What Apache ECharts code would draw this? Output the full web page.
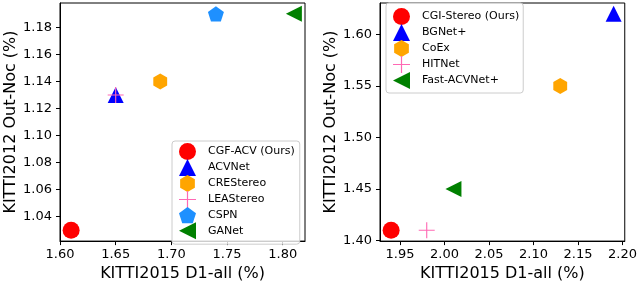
<!DOCTYPE html>
<html>
<head>
<meta charset="utf-8">
<script src="https://cdn.jsdelivr.net/npm/echarts@6/dist/echarts.min.js"></script>
<style>html,body{margin:0;padding:0;background:#fff}#c{width:640px;height:287px}</style>
</head>
<body>
<div id="c"></div>
<script>
// Left panel data
const leftNames = ['CGF-ACV (Ours)', 'ACVNet', 'CREStereo', 'LEAStereo', 'CSPN', 'GANet'];
const leftX = [1.61, 1.65, 1.69, 1.65, 1.74, 1.81];
const leftY = [1.03, 1.13, 1.14, 1.13, 1.19, 1.19];
const leftXTicks = [1.60, 1.65, 1.70, 1.75, 1.80];
const leftYTicks = [1.04, 1.06, 1.08, 1.10, 1.12, 1.14, 1.16, 1.18];

// Right panel data
const rightNames = ['CGI-Stereo (Ours)', 'BGNet+', 'CoEx', 'HITNet', 'Fast-ACVNet+'];
const rightX = [1.94, 2.19, 2.13, 1.98, 2.01];
const rightY = [1.41, 1.62, 1.55, 1.41, 1.45];
const rightXTicks = [1.95, 2.00, 2.05, 2.10, 2.15, 2.20];
const rightYTicks = [1.40, 1.45, 1.50, 1.55, 1.60];

const xTitle = 'KITTI2015 D1-all (%)';
const yTitle = 'KITTI2012 Out-Noc (%)';

const SYM = {
  circle: 'circle',
  triUp: 'triangle',
  hex: 'path://M0,-1 L0.866,-0.5 L0.866,0.5 L0,1 L-0.866,0.5 L-0.866,-0.5 Z',
  plus: 'path://M-0.07,-1 L0.07,-1 L0.07,-0.07 L1,-0.07 L1,0.07 L0.07,0.07 L0.07,1 L-0.07,1 L-0.07,0.07 L-1,0.07 L-1,-0.07 L-0.07,-0.07 Z',
  pent: 'path://M0,-1 L0.951,-0.309 L0.588,0.809 L-0.588,0.809 L-0.951,-0.309 Z',
  triLeft: 'path://M-1,0 L1,-1 L1,1 Z'
};
const leftStyle = [
  ['circle', '#ff0000', 17], ['triUp', '#0000ff', 16], ['hex', '#ffa500', 16],
  ['plus', '#ff69b4', 16], ['pent', '#1e90ff', 16], ['triLeft', '#008000', 16]
];
const rightStyle = [
  ['circle', '#ff0000', 17], ['triUp', '#0000ff', 16], ['hex', '#ffa500', 16],
  ['plus', '#ff69b4', 16], ['triLeft', '#008000', 16]
];

const FONT = 'DejaVu Sans';

function fmt(v) { return v.toFixed(2); }

function axisX(idx, min, max, ticks) {
  return {
    type: 'value', gridIndex: idx, min: min, max: max,
    name: xTitle, nameLocation: 'middle', nameGap: 16,
    nameTextStyle: { fontFamily: FONT, fontSize: 16, color: '#000' },
    axisLine: { show: true, lineStyle: { color: '#000', width: 1 } },
    axisTick: { show: true, length: 4, inside: false, customValues: ticks, lineStyle: { color: '#000' } },
    axisLabel: { customValues: ticks, formatter: fmt, fontFamily: FONT, fontSize: 13, color: '#000', margin: 7 },
    splitLine: { show: false }
  };
}
function axisY(idx, min, max, ticks) {
  return {
    type: 'value', gridIndex: idx, min: min, max: max,
    name: yTitle, nameLocation: 'middle', nameGap: 40, nameRotate: 90,
    nameTextStyle: { fontFamily: FONT, fontSize: 16, color: '#000' },
    axisLine: { show: true, lineStyle: { color: '#000', width: 1 } },
    axisTick: { show: true, length: 4, inside: false, customValues: ticks, lineStyle: { color: '#000' } },
    axisLabel: { customValues: ticks, formatter: fmt, fontFamily: FONT, fontSize: 13, color: '#000', margin: 8 },
    splitLine: { show: false }
  };
}

const series = [];
leftNames.forEach((n, i) => {
  series.push({
    type: 'scatter', name: n, xAxisIndex: 0, yAxisIndex: 0,
    symbol: SYM[leftStyle[i][0]], symbolSize: leftStyle[i][2], symbolKeepAspect: true,
    itemStyle: { color: leftStyle[i][1], opacity: 1 },
    data: [[leftX[i], leftY[i]]], z: 2 + i
  });
});
rightNames.forEach((n, i) => {
  series.push({
    type: 'scatter', name: n, xAxisIndex: 1, yAxisIndex: 1,
    symbol: SYM[rightStyle[i][0]], symbolSize: rightStyle[i][2], symbolKeepAspect: true,
    itemStyle: { color: rightStyle[i][1], opacity: 1 },
    data: [[rightX[i], rightY[i]]], z: 2 + i
  });
});

const legendCommon = {
  orient: 'vertical', itemWidth: 17, itemHeight: 17, itemGap: -1,
  backgroundColor: 'rgba(255,255,255,0.8)', borderColor: '#cccccc', borderWidth: 1, borderRadius: 3,
  textStyle: { fontFamily: FONT, fontSize: 11, color: '#000', padding: [0, 0, 0, 7], lineHeight: 16 },
  selectedMode: false, symbolKeepAspect: true
};

const option = {
  animation: false,
  backgroundColor: '#fff',
  grid: [
    { left: 60, right: 335, top: 3, bottom: 41, show: true, borderColor: '#000', borderWidth: 1, backgroundColor: 'transparent' },
    { left: 380, right: 14, top: 3, bottom: 41, show: true, borderColor: '#000', borderWidth: 1, backgroundColor: 'transparent' }
  ],
  xAxis: [axisX(0, 1.60, 1.82, leftXTicks), axisX(1, 1.9275, 2.2025, rightXTicks)],
  yAxis: [axisY(0, 1.022, 1.198, leftYTicks), axisY(1, 1.3995, 1.6305, rightYTicks)],
  legend: [
    Object.assign({}, legendCommon, { data: leftNames, left: 172, top: 141, padding: [2, 5, 5, 7] }),
    Object.assign({}, legendCommon, { data: rightNames, left: 386, top: 3, padding: [5, 4, 4, 7] })
  ],
  series: series
};

const chart = echarts.init(document.getElementById('c'), null, { renderer: 'canvas' });
chart.setOption(option);
</script>
</body>
</html>
